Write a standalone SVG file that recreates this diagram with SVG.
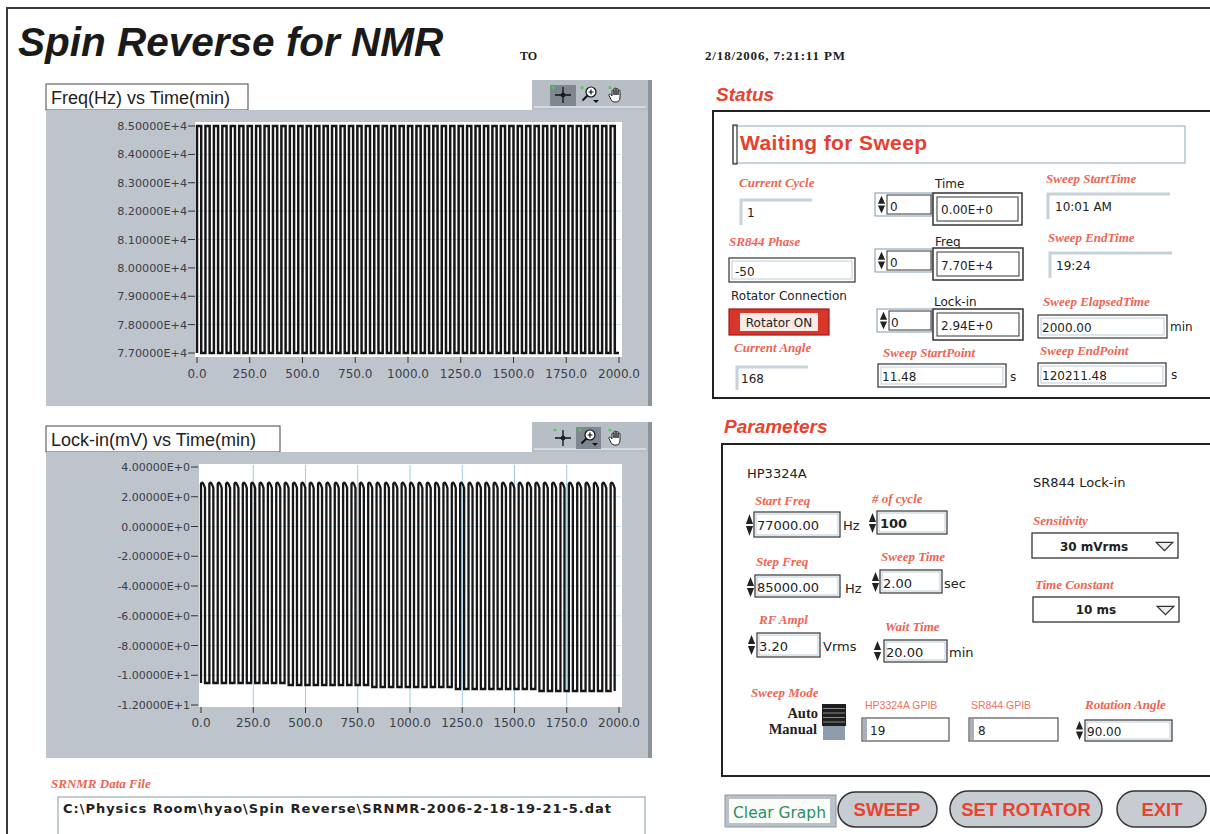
<svg xmlns="http://www.w3.org/2000/svg" xmlns:xlink="http://www.w3.org/1999/xlink" width="1210" height="834" viewBox="0 0 1210 834">
<style>
.ui{font-family:"DejaVu Sans",sans-serif;font-size:12px;fill:#222}
.pv{font-family:"DejaVu Sans",sans-serif;font-size:13px;fill:#222}
.lbl{font-family:"Liberation Serif",serif;font-style:italic;font-weight:bold;font-size:13px;fill:#ef6452}
.ax{font-family:"DejaVu Sans",sans-serif;font-size:11.2px;fill:#3a4048}
.axx{font-family:"DejaVu Sans",sans-serif;font-size:12px;fill:#3a4048;text-anchor:middle}
.hdr{font-family:"Liberation Sans",sans-serif;font-style:italic;font-weight:bold;font-size:19px;fill:#e8432f}
.btn{fill:#c7ccd3;stroke:#333;stroke-width:1.5}
.btxt{font-family:"Liberation Sans",sans-serif;font-weight:bold;font-size:18.5px;fill:#e8432f;text-anchor:middle}
.nb{fill:#fff;stroke:#333;stroke-width:1.2}
.nbi{fill:none;stroke:#a9c0d0;stroke-width:0.8}
.ind{fill:none;stroke:#c6d2db;stroke-width:3}
.panel{fill:#bec4cc}
.shadow{fill:#8d949c}
.tb{fill:#b7bec6}
.grid{stroke:#cfe3f0;stroke-width:1}
.vgrid{stroke:#9fcbe6;stroke-width:1}
.tick{stroke:#333;stroke-width:1}
.sw{fill:none;stroke:#161616;stroke-width:2.5}
.sw2{fill:none;stroke:#161616;stroke-width:2.3}
.gpib{font-family:"Liberation Sans",sans-serif;font-size:10.5px;fill:#f0705e}
</style>
<defs>
<symbol id="spin" viewBox="0 0 10 24" preserveAspectRatio="none">
<path d="M1,11 L5,2 L9,11 Z M1,13 L5,22 L9,13 Z" fill="#222"/>
</symbol>
<symbol id="dd" viewBox="0 0 18 10">
<path d="M1,1 H17 L9,9 Z" fill="#e8eef4" stroke="#333" stroke-width="1.2"/>
</symbol>
<symbol id="cross" viewBox="0 0 20 20">
<path d="M2,10 H18 M10,2 V18" stroke="#111" stroke-width="1.3"/>
<circle cx="10" cy="10" r="2" fill="none" stroke="#111"/>
</symbol>
<symbol id="mag" viewBox="0 0 20 20">
<circle cx="11" cy="7" r="5" fill="#fff" stroke="#111" stroke-width="1.2"/>
<path d="M8.5,7 H13.5 M11,4.5 V9.5" stroke="#111" stroke-width="1.2"/>
<path d="M7.5,10.5 L2.5,15.5" stroke="#111" stroke-width="2"/>
<path d="M13,15 H19 L16,18 Z" fill="#111"/>
</symbol>
<symbol id="hand" viewBox="0 0 16 18">
<path d="M4,10 V5 a1,1 0 0 1 2,0 V9 V3 a1,1 0 0 1 2,0 V9 V3.5 a1,1 0 0 1 2,0 V9 V5 a1,1 0 0 1 2,0 V11 q0,5 -4,5 h-1.5 q-2.5,0 -3.5,-2.5 l-2,-4 a1,1 0 0 1 1.8,-0.9 Z" fill="#fff" stroke="#222" stroke-width="1"/>
</symbol>
</defs>

<rect x="0" y="0" width="1210" height="834" fill="#fff"/>
<path d="M7,834 V8 H1210" fill="none" stroke="#3a3a3a" stroke-width="2"/>

<g id="header">
<text x="18" y="56" style="font-family:'Liberation Sans',sans-serif;font-style:italic;font-weight:bold;font-size:40.5px;fill:#1a1a1a">Spin Reverse for NMR</text>
<text x="520" y="60" style="font-family:'Liberation Serif',serif;font-weight:bold;font-size:12px;fill:#222">TO</text>
<text x="705" y="60" textLength="140" style="font-family:'Liberation Serif',serif;font-weight:bold;font-size:13px;fill:#222">2/18/2006, 7:21:11 PM</text>
</g>

<g id="graph-freq">
<rect x="46" y="84" width="202" height="26" fill="#fff" stroke="#444"/>
<text x="51" y="104" style="font-family:'Liberation Sans',sans-serif;font-size:18px;fill:#222">Freq(Hz) vs Time(min)</text>
<rect x="532" y="80" width="116" height="31" class="tb"/>
<rect x="534" y="106" width="112" height="2" fill="#d5dadf"/>
<rect x="550" y="85" width="26" height="21" fill="#7f8891"/>
<use href="#cross" x="553" y="85" width="20" height="20"/>
<use href="#mag" x="580" y="85" width="20" height="20"/>
<use href="#hand" x="608" y="86" width="16" height="18"/>
<circle cx="553" cy="87.5" r="1.6" fill="#4fd04f"/>
<circle cx="582" cy="87.5" r="1.6" fill="#4fd04f"/>
<circle cx="610" cy="87.5" r="1.6" fill="#4fd04f"/>
<rect x="46" y="110" width="602" height="296" class="panel"/>
<rect x="648" y="80" width="4" height="326" class="shadow"/>
<rect x="195" y="122" width="427" height="235" fill="#fff"/>
<path class="grid" d="M196,154.4 H621 M196,182.75 H621 M196,211.1 H621 M196,239.5 H621 M196,267.9 H621 M196,296.25 H621 M196,324.6 H621"/>
<path class="sw" d="M197,353
V126h4.22V353h4.22V126h4.22V353h4.22V126h4.22V353h4.22V126h4.22V353h4.22V126h4.22V353h4.22V126h4.22V353h4.22V126h4.22V353h4.22V126h4.22V353h4.22V126h4.22V353h4.22V126h4.22V353h4.22
V126h4.22V353h4.22V126h4.22V353h4.22V126h4.22V353h4.22V126h4.22V353h4.22V126h4.22V353h4.22V126h4.22V353h4.22V126h4.22V353h4.22V126h4.22V353h4.22V126h4.22V353h4.22V126h4.22V353h4.22
V126h4.22V353h4.22V126h4.22V353h4.22V126h4.22V353h4.22V126h4.22V353h4.22V126h4.22V353h4.22V126h4.22V353h4.22V126h4.22V353h4.22V126h4.22V353h4.22V126h4.22V353h4.22V126h4.22V353h4.22
V126h4.22V353h4.22V126h4.22V353h4.22V126h4.22V353h4.22V126h4.22V353h4.22V126h4.22V353h4.22V126h4.22V353h4.22V126h4.22V353h4.22V126h4.22V353h4.22V126h4.22V353h4.22V126h4.22V353h4.22
V126h4.22V353h4.22V126h4.22V353h4.22V126h4.22V353h4.22V126h4.22V353h4.22V126h4.22V353h4.22V126h4.22V353h4.22V126h4.22V353h4.22V126h4.22V353h4.22V126h4.22V353h4.22V126h4.22V353h4.22"/>
<path class="tick" d="M188,126H195M188,154.4H195M188,182.75H195M188,211.1H195M188,239.5H195M188,267.9H195M188,296.25H195M188,324.6H195M188,353H195"/>
<path class="tick" d="M197,357V363M249.75,357V363M302.5,357V363M355.25,357V363M408,357V363M460.75,357V363M513.5,357V363M566.25,357V363M619,357V363"/>
<g class="ax" text-anchor="end">
<text x="187" y="130">8.50000E+4</text>
<text x="187" y="158.4">8.40000E+4</text>
<text x="187" y="186.75">8.30000E+4</text>
<text x="187" y="215.1">8.20000E+4</text>
<text x="187" y="243.5">8.10000E+4</text>
<text x="187" y="271.9">8.00000E+4</text>
<text x="187" y="300.25">7.90000E+4</text>
<text x="187" y="328.6">7.80000E+4</text>
<text x="187" y="357">7.70000E+4</text>
</g>
<g class="axx">
<text x="197" y="378">0.0</text>
<text x="249.75" y="378">250.0</text>
<text x="302.5" y="378">500.0</text>
<text x="355.25" y="378">750.0</text>
<text x="408" y="378">1000.0</text>
<text x="460.75" y="378">1250.0</text>
<text x="513.5" y="378">1500.0</text>
<text x="566.25" y="378">1750.0</text>
<text x="619" y="378">2000.0</text>
</g>
</g>

<g id="graph-lockin">
<rect x="46" y="426" width="234" height="26" fill="#fff" stroke="#444"/>
<text x="51" y="446" style="font-family:'Liberation Sans',sans-serif;font-size:18px;fill:#222">Lock-in(mV) vs Time(min)</text>
<rect x="532" y="422" width="116" height="31" class="tb"/>
<rect x="534" y="448" width="112" height="2" fill="#d5dadf"/>
<rect x="576" y="427" width="25" height="22" fill="#7f8891"/>
<use href="#cross" x="553" y="428" width="20" height="20"/>
<use href="#mag" x="579" y="428" width="20" height="20"/>
<use href="#hand" x="608" y="429" width="16" height="18"/>
<circle cx="555" cy="430" r="1.6" fill="#4fd04f"/>
<circle cx="580" cy="430" r="1.6" fill="#4fd04f"/>
<circle cx="610" cy="430" r="1.6" fill="#4fd04f"/>
<rect x="46" y="452" width="602" height="306" class="panel"/>
<rect x="648" y="422" width="4" height="336" class="shadow"/>
<rect x="199" y="464" width="423" height="243" fill="#fff"/>
<path class="grid" d="M200,496.75H621M200,526.5H621M200,556.25H621M200,586H621M200,615.75H621M200,645.5H621M200,675.25H621"/>
<path class="vgrid" d="M253.25,465V706M305.5,465V706M357.75,465V706M410,465V706M462.25,465V706M514.5,465V706M566.75,465V706"/>
<path class="sw2" d="M201,683
V484q1.5,-4 4,4V683h4.36V484q1.5,-4 4,4V683h4.36V484q1.5,-4 4,4V683h4.36V484q1.5,-4 4,4V683h4.36V484q1.5,-4 4,4V683h4.36V484q1.5,-4 4,4V683h4.36V484q1.5,-4 4,4V683h4.36V484q1.5,-4 4,4V683h4.36V484q1.5,-4 4,4V683h4.36V484q1.5,-4 4,4V683h4.36
V484q1.5,-4 4,4V685h4.36V484q1.5,-4 4,4V685h4.36V484q1.5,-4 4,4V685h4.36V484q1.5,-4 4,4V685h4.36V484q1.5,-4 4,4V685h4.36V484q1.5,-4 4,4V685h4.36V484q1.5,-4 4,4V685h4.36V484q1.5,-4 4,4V685h4.36V484q1.5,-4 4,4V685h4.36V484q1.5,-4 4,4V685h4.36
V484q1.5,-4 4,4V687h4.36V484q1.5,-4 4,4V687h4.36V484q1.5,-4 4,4V687h4.36V484q1.5,-4 4,4V687h4.36V484q1.5,-4 4,4V687h4.36V484q1.5,-4 4,4V687h4.36V484q1.5,-4 4,4V687h4.36V484q1.5,-4 4,4V687h4.36V484q1.5,-4 4,4V687h4.36V484q1.5,-4 4,4V687h4.36
V484q1.5,-4 4,4V689h4.36V484q1.5,-4 4,4V689h4.36V484q1.5,-4 4,4V689h4.36V484q1.5,-4 4,4V689h4.36V484q1.5,-4 4,4V689h4.36V484q1.5,-4 4,4V689h4.36V484q1.5,-4 4,4V689h4.36V484q1.5,-4 4,4V689h4.36V484q1.5,-4 4,4V689h4.36V484q1.5,-4 4,4V689h4.36
V484q1.5,-4 4,4V691h4.36V484q1.5,-4 4,4V691h4.36V484q1.5,-4 4,4V691h4.36V484q1.5,-4 4,4V691h4.36V484q1.5,-4 4,4V691h4.36V484q1.5,-4 4,4V691h4.36V484q1.5,-4 4,4V691h4.36V484q1.5,-4 4,4V691h4.36V484q1.5,-4 4,4V691h4.36V484q1.5,-4 4,4V691"/>
<path class="tick" d="M191,467H198M191,496.75H198M191,526.5H198M191,556.25H198M191,586H198M191,615.75H198M191,645.5H198M191,675.25H198M191,705H198"/>
<path class="tick" d="M201,707V713M253.25,707V713M305.5,707V713M357.75,707V713M410,707V713M462.25,707V713M514.5,707V713M566.75,707V713M619,707V713"/>
<g class="ax" text-anchor="end" style="font-size:11px">
<text x="190" y="471">4.00000E+0</text>
<text x="190" y="500.75">2.00000E+0</text>
<text x="190" y="530.5">0.00000E+0</text>
<text x="190" y="560.25">-2.00000E+0</text>
<text x="190" y="590">-4.00000E+0</text>
<text x="190" y="619.75">-6.00000E+0</text>
<text x="190" y="649.5">-8.00000E+0</text>
<text x="190" y="679.25">-1.00000E+1</text>
<text x="190" y="709">-1.20000E+1</text>
</g>
<g class="axx">
<text x="201" y="727">0.0</text>
<text x="253.25" y="727">250.0</text>
<text x="305.5" y="727">500.0</text>
<text x="357.75" y="727">750.0</text>
<text x="410" y="727">1000.0</text>
<text x="462.25" y="727">1250.0</text>
<text x="514.5" y="727">1500.0</text>
<text x="566.75" y="727">1750.0</text>
<text x="619" y="727">2000.0</text>
</g>
</g>

<g id="data-file">
<text x="51" y="788" class="lbl">SRNMR Data File</text>
<rect x="58" y="797" width="587" height="40" fill="#fff" stroke="#9aa8b5" stroke-width="1.2"/>
<text x="63" y="813" textLength="548" style="font-family:'DejaVu Sans',sans-serif;font-weight:bold;font-size:13px;fill:#222">C:\Physics Room\hyao\Spin Reverse\SRNMR-2006-2-18-19-21-5.dat</text>
</g>

<g id="status">
<text x="716" y="101" class="hdr">Status</text>
<rect x="713" y="111" width="500" height="287" fill="#fff" stroke="#222" stroke-width="2"/>
<rect x="733" y="126" width="452" height="37" fill="#fff" stroke="#a3b6c3" stroke-width="1.2"/>
<rect x="733" y="125" width="4" height="39" fill="none" stroke="#333" stroke-width="1.2"/>
<text x="740" y="150" textLength="187" style="font-family:'Liberation Sans',sans-serif;font-weight:bold;font-size:21px;fill:#e8402e">Waiting for Sweep</text>

<text x="739" y="187" class="lbl">Current Cycle</text>
<path class="ind" d="M741,225 V200 H812"/>
<text x="747" y="217" class="ui">1</text>

<text x="729" y="246" class="lbl">SR844  Phase</text>
<rect x="729" y="258" width="126" height="24" class="nb"/>
<rect x="732" y="261" width="120" height="18" class="nbi"/>
<text x="735" y="276" class="ui">-50</text>

<text x="731" y="300" class="ui">Rotator Connection</text>
<rect x="729" y="309" width="100" height="26" fill="#d8362a" stroke="#9e1c14" stroke-width="1.2"/>
<rect x="740" y="313" width="78" height="18" fill="#fbeae6"/>
<text x="779" y="327" class="ui" text-anchor="middle">Rotator ON</text>

<text x="734" y="352" class="lbl">Current Angle</text>
<path class="ind" d="M737,390 V367 H808"/>
<text x="741" y="383" class="ui">168</text>

<text x="935" y="188" class="ui">Time</text>
<rect x="875" y="193" width="57" height="23" fill="#fff" stroke="#7c9ab0"/>
<rect x="887" y="195" width="44" height="19" fill="none" stroke="#333"/>
<use href="#spin" x="877" y="194" width="9" height="21"/>
<text x="890" y="211" class="ui">0</text>
<rect x="933" y="193" width="89" height="32" fill="#fff" stroke="#333" stroke-width="1.5"/>
<rect x="937" y="197" width="81" height="24" fill="none" stroke="#333"/>
<text x="941" y="214" class="ui">0.00E+0</text>

<text x="935" y="246" class="ui">Freq</text>
<rect x="875" y="249" width="57" height="23" fill="#fff" stroke="#7c9ab0"/>
<rect x="887" y="251" width="44" height="19" fill="none" stroke="#333"/>
<use href="#spin" x="877" y="250" width="9" height="21"/>
<text x="890" y="267" class="ui">0</text>
<rect x="933" y="248" width="90" height="32" fill="#fff" stroke="#333" stroke-width="1.5"/>
<rect x="937" y="252" width="82" height="24" fill="none" stroke="#333"/>
<text x="941" y="270" class="ui">7.70E+4</text>

<text x="934" y="306" class="ui">Lock-in</text>
<rect x="877" y="309" width="55" height="23" fill="#fff" stroke="#7c9ab0"/>
<rect x="889" y="311" width="42" height="19" fill="none" stroke="#333"/>
<use href="#spin" x="879" y="310" width="9" height="21"/>
<text x="891" y="327" class="ui">0</text>
<rect x="933" y="309" width="90" height="31" fill="#fff" stroke="#333" stroke-width="1.5"/>
<rect x="937" y="313" width="82" height="23" fill="none" stroke="#333"/>
<text x="941" y="330" class="ui">2.94E+0</text>

<text x="883" y="357" class="lbl">Sweep StartPoint</text>
<rect x="878" y="364" width="128" height="23" class="nb"/>
<rect x="881" y="367" width="122" height="17" class="nbi"/>
<text x="882" y="381" class="ui">11.48</text>
<text x="1010" y="381" class="ui">s</text>

<text x="1046" y="183" class="lbl">Sweep StartTime</text>
<path class="ind" d="M1048,219 V194 H1170"/>
<text x="1055" y="211" class="ui">10:01 AM</text>

<text x="1048" y="242" class="lbl">Sweep EndTime</text>
<path class="ind" d="M1050,278 V253 H1172"/>
<text x="1056" y="270" class="ui">19:24</text>

<text x="1043" y="306" class="lbl">Sweep ElapsedTime</text>
<rect x="1038" y="315" width="129" height="23" class="nb"/>
<rect x="1041" y="318" width="123" height="17" class="nbi"/>
<text x="1042" y="332" class="ui">2000.00</text>
<text x="1170" y="331" class="ui">min</text>

<text x="1040" y="355" class="lbl">Sweep EndPoint</text>
<rect x="1038" y="363" width="128" height="23" class="nb"/>
<rect x="1041" y="366" width="122" height="17" class="nbi"/>
<text x="1042" y="380" class="ui">120211.48</text>
<text x="1171" y="379" class="ui">s</text>
</g>

<g id="parameters">
<text x="724" y="433" class="hdr">Parameters</text>
<rect x="722" y="444" width="491" height="332" fill="#fff" stroke="#222" stroke-width="2"/>
<text x="747" y="478" class="pv">HP3324A</text>
<text x="1033" y="487" class="pv">SR844 Lock-in</text>

<text x="755" y="505" class="lbl">Start Freq</text>
<text x="872" y="503" class="lbl"># of cycle</text>
<use href="#spin" x="745" y="512" width="9" height="26"/>
<rect x="754" y="512" width="86" height="25" class="nb"/>
<rect x="756" y="514" width="82" height="21" class="nbi"/>
<text x="757" y="530" class="pv">77000.00</text>
<text x="843" y="530" class="pv">Hz</text>
<use href="#spin" x="868" y="511" width="9" height="24"/>
<rect x="877" y="511" width="70" height="23" class="nb"/>
<rect x="879" y="513" width="66" height="19" class="nbi"/>
<text x="880" y="528" class="pv" font-weight="bold">100</text>

<text x="756" y="566" class="lbl">Step Freq</text>
<text x="881" y="561" class="lbl">Sweep Time</text>
<use href="#spin" x="746" y="575" width="9" height="24"/>
<rect x="755" y="575" width="85" height="22" class="nb"/>
<rect x="757" y="577" width="81" height="18" class="nbi"/>
<text x="757" y="592" class="pv">85000.00</text>
<text x="845" y="593" class="pv">Hz</text>
<use href="#spin" x="871" y="570" width="9" height="24"/>
<rect x="880" y="570" width="62" height="23" class="nb"/>
<rect x="882" y="572" width="58" height="19" class="nbi"/>
<text x="883" y="588" class="pv">2.00</text>
<text x="944" y="588" class="pv">sec</text>

<text x="759" y="624" class="lbl">RF Ampl</text>
<text x="885" y="631" class="lbl">Wait Time</text>
<use href="#spin" x="747" y="633" width="9" height="24"/>
<rect x="757" y="633" width="63" height="24" class="nb"/>
<rect x="759" y="635" width="59" height="20" class="nbi"/>
<text x="759" y="651" class="pv">3.20</text>
<text x="823" y="651" class="pv">Vrms</text>
<use href="#spin" x="873" y="639" width="9" height="24"/>
<rect x="884" y="640" width="63" height="22" class="nb"/>
<rect x="886" y="642" width="59" height="18" class="nbi"/>
<text x="886" y="657" class="pv">20.00</text>
<text x="949" y="657" class="pv">min</text>

<text x="1033" y="525" class="lbl">Sensitivity</text>
<rect x="1032" y="533" width="146" height="25" fill="#fff" stroke="#333" stroke-width="1.3"/>
<text x="1094" y="551" class="ui" font-weight="bold" text-anchor="middle">30 mVrms</text>
<use href="#dd" x="1155" y="541" width="19" height="11"/>
<text x="1035" y="589" class="lbl">Time Constant</text>
<rect x="1033" y="597" width="146" height="25" fill="#fff" stroke="#333" stroke-width="1.3"/>
<text x="1096" y="614" class="ui" font-weight="bold" text-anchor="middle">10 ms</text>
<use href="#dd" x="1156" y="605" width="19" height="11"/>

<text x="751" y="697" class="lbl">Sweep Mode</text>
<text x="818" y="718" text-anchor="end" style="font-family:'Liberation Serif',serif;font-weight:bold;font-size:14.5px;fill:#222">Auto</text>
<text x="817" y="734" text-anchor="end" style="font-family:'Liberation Serif',serif;font-weight:bold;font-size:14.5px;fill:#222">Manual</text>
<rect x="823" y="725" width="22" height="15" fill="#8f9cab"/>
<rect x="822" y="704" width="24" height="22" fill="#1e1e1e"/>
<path d="M823,708.5H845M823,713H845M823,717.5H845M823,722H845" stroke="#8a8a8a" stroke-width="1"/>

<text x="865" y="709" class="gpib">HP3324A GPIB</text>
<rect x="862" y="718" width="87" height="23" fill="#fff" stroke="#555" stroke-width="1.2"/>
<rect x="863" y="719" width="4" height="21" fill="#a5b1bc"/>
<text x="870" y="735" class="ui">19</text>
<text x="971" y="709" class="gpib">SR844 GPIB</text>
<rect x="969" y="718" width="89" height="23" fill="#fff" stroke="#555" stroke-width="1.2"/>
<rect x="970" y="719" width="4" height="21" fill="#a5b1bc"/>
<text x="978" y="735" class="ui">8</text>
<text x="1085" y="709" class="lbl">Rotation Angle</text>
<use href="#spin" x="1075" y="719" width="9" height="23"/>
<rect x="1085" y="720" width="87" height="21" class="nb"/>
<rect x="1087" y="722" width="83" height="17" class="nbi"/>
<text x="1087" y="736" class="ui">90.00</text>
</g>

<g id="buttons">
<rect x="725" y="795" width="111" height="32" fill="#b9c1c9" stroke="#8c98a3"/>
<rect x="729" y="799" width="101" height="24" fill="#fafcf8"/>
<text x="733" y="818" style="font-family:'DejaVu Sans',sans-serif;font-size:15.5px;fill:#2f8c66">Clear Graph</text>
<rect x="838" y="792" width="99" height="35" rx="17.5" class="btn"/>
<text x="887" y="816" class="btxt">SWEEP</text>
<rect x="950" y="791" width="152" height="36" rx="18" class="btn"/>
<text x="1026" y="816" class="btxt">SET ROTATOR</text>
<rect x="1117" y="791" width="89" height="36" rx="18" class="btn"/>
<text x="1162" y="816" class="btxt">EXIT</text>
</g>
</svg>
